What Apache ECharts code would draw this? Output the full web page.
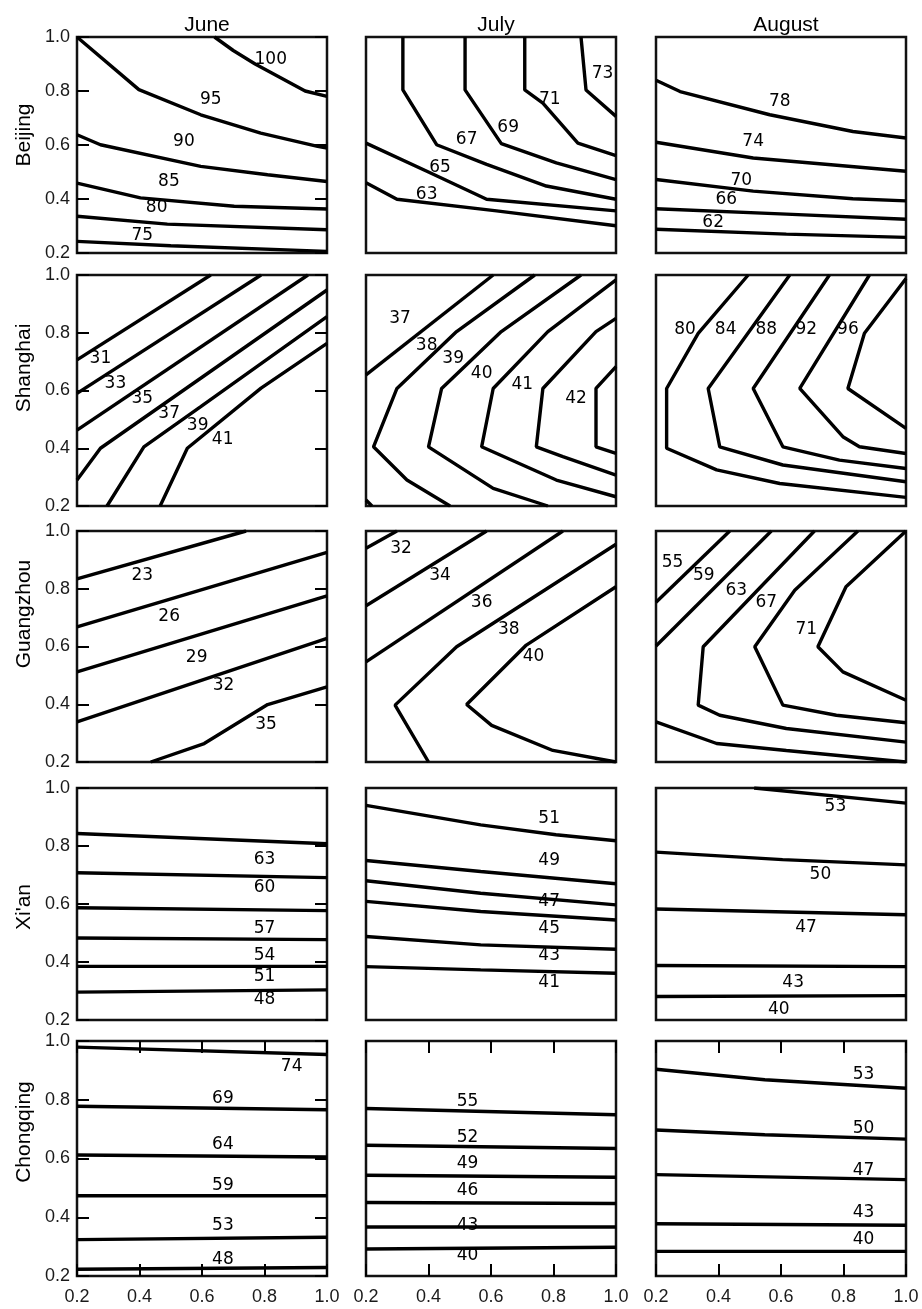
<!DOCTYPE html>
<html>
<head>
<meta charset="utf-8">
<script src="https://cdn.jsdelivr.net/npm/echarts@6/dist/echarts.min.js"></script>
<style>
  html, body { margin: 0; padding: 0; background: #fff; }
  #main { width: 922px; height: 1309px; }
</style>
</head>
<body>
<div id="main"></div>
<script>
// 各面板的等值线：level 等值, line 折线点 [x, y], at 标签位置
const months = ['June', 'July', 'August'];
const cities = ['Beijing', 'Shanghai', 'Guangzhou', "Xi'an", 'Chongqing'];
const ticks = [0.2, 0.4, 0.6, 0.8, 1.0];

const beijingJune = [
  { level: 100, line: [[0.64, 1.0], [0.70, 0.95], [0.77, 0.90], [0.93, 0.80], [1.0, 0.78]], at: [0.82, 0.915] },
  { level: 95, line: [[0.2, 1.0], [0.398, 0.805], [0.596, 0.712], [0.788, 0.644], [0.97, 0.595], [1.0, 0.589]], at: [0.628, 0.768] },
  { level: 90, line: [[0.2, 0.638], [0.275, 0.601], [0.596, 0.521], [0.81, 0.49], [1.0, 0.465]], at: [0.542, 0.614] },
  { level: 85, line: [[0.2, 0.459], [0.403, 0.404], [0.703, 0.373], [1.0, 0.363]], at: [0.494, 0.465] },
  { level: 80, line: [[0.2, 0.336], [0.489, 0.307], [1.0, 0.286]], at: [0.455, 0.367] },
  { level: 75, line: [[0.2, 0.243], [0.5, 0.227], [1.0, 0.206]], at: [0.409, 0.265] }
];
const beijingJuly = [
  { level: 73, line: [[0.888, 1.0], [0.904, 0.804], [1.0, 0.706]], at: [0.957, 0.865] },
  { level: 71, line: [[0.708, 1.0], [0.708, 0.804], [0.766, 0.755], [0.878, 0.607], [1.0, 0.561]], at: [0.788, 0.767] },
  { level: 69, line: [[0.517, 1.0], [0.517, 0.804], [0.633, 0.605], [0.809, 0.534], [1.0, 0.472]], at: [0.655, 0.663] },
  { level: 67, line: [[0.318, 1.0], [0.318, 0.804], [0.426, 0.601], [0.586, 0.528], [0.777, 0.448], [1.0, 0.399]], at: [0.522, 0.620] },
  { level: 65, line: [[0.2, 0.607], [0.405, 0.497], [0.586, 0.399], [1.0, 0.356]], at: [0.437, 0.515] },
  { level: 63, line: [[0.2, 0.46], [0.299, 0.399], [0.618, 0.356], [1.0, 0.301]], at: [0.394, 0.417] }
];
const beijingAugust = [
  { level: 78, line: [[0.2, 0.84], [0.277, 0.798], [0.564, 0.712], [0.83, 0.65], [1.0, 0.626]], at: [0.596, 0.761] },
  { level: 74, line: [[0.2, 0.61], [0.511, 0.552], [1.0, 0.503]], at: [0.511, 0.613] },
  { level: 70, line: [[0.2, 0.472], [0.511, 0.429], [0.83, 0.401], [1.0, 0.393]], at: [0.473, 0.469] },
  { level: 66, line: [[0.2, 0.364], [0.617, 0.344], [1.0, 0.325]], at: [0.425, 0.399] },
  { level: 62, line: [[0.2, 0.288], [0.617, 0.27], [1.0, 0.258]], at: [0.383, 0.313] }
];

const shanghaiJune = [
  { level: 31, line: [[0.2, 0.706], [0.628, 1.0]], at: [0.275, 0.711] },
  { level: 33, line: [[0.2, 0.59], [0.789, 1.0]], at: [0.323, 0.625] },
  { level: 35, line: [[0.2, 0.463], [0.939, 1.0]], at: [0.409, 0.573] },
  { level: 37, line: [[0.2, 0.29], [0.275, 0.40], [1.0, 0.948]], at: [0.495, 0.521] },
  { level: 39, line: [[0.296, 0.2], [0.414, 0.405], [0.596, 0.544], [1.0, 0.856]], at: [0.586, 0.480] },
  { level: 41, line: [[0.466, 0.2], [0.553, 0.40], [0.789, 0.608], [1.0, 0.763]], at: [0.666, 0.429] }
];
const shanghaiJuly = [
  { level: 37, line: [[0.2, 0.654], [0.607, 1.0]], at: [0.309, 0.850] },
  { level: 37, line: [[0.2, 0.221], [0.219, 0.2]], at: null },
  { level: 38, line: [[0.74, 1.0], [0.49, 0.804], [0.299, 0.607], [0.224, 0.405], [0.331, 0.29], [0.469, 0.2]], at: [0.394, 0.757] },
  { level: 39, line: [[0.888, 1.0], [0.633, 0.804], [0.442, 0.607], [0.40, 0.405], [0.607, 0.261], [0.782, 0.2]], at: [0.479, 0.711] },
  { level: 40, line: [[1.0, 0.983], [0.782, 0.804], [0.607, 0.607], [0.57, 0.405], [0.809, 0.29], [1.0, 0.232]], at: [0.570, 0.659] },
  { level: 41, line: [[1.0, 0.85], [0.936, 0.804], [0.766, 0.607], [0.745, 0.405], [0.83, 0.371], [1.0, 0.307]], at: [0.700, 0.619] },
  { level: 42, line: [[1.0, 0.683], [0.936, 0.607], [0.936, 0.405], [1.0, 0.382]], at: [0.872, 0.573] }
];
const shanghaiAugust = [
  { level: 80, line: [[0.495, 1.0], [0.335, 0.798], [0.234, 0.607], [0.234, 0.40], [0.394, 0.325], [0.596, 0.278], [1.0, 0.23]], at: [0.293, 0.81] },
  { level: 84, line: [[0.628, 1.0], [0.367, 0.607], [0.404, 0.405], [0.606, 0.342], [1.0, 0.284]], at: [0.423, 0.81] },
  { level: 88, line: [[0.755, 1.0], [0.511, 0.607], [0.606, 0.405], [0.787, 0.359], [1.0, 0.33]], at: [0.553, 0.81] },
  { level: 92, line: [[0.883, 1.0], [0.66, 0.607], [0.798, 0.44], [0.851, 0.405], [1.0, 0.382]], at: [0.681, 0.81] },
  { level: 96, line: [[1.0, 0.988], [0.867, 0.798], [0.814, 0.607], [1.0, 0.469]], at: [0.814, 0.81] }
];

const guangzhouJune = [
  { level: 23, line: [[0.2, 0.834], [0.741, 1.0]], at: [0.409, 0.847] },
  { level: 26, line: [[0.2, 0.668], [1.0, 0.926]], at: [0.495, 0.703] },
  { level: 29, line: [[0.2, 0.512], [1.0, 0.775]], at: [0.583, 0.561] },
  { level: 32, line: [[0.2, 0.339], [1.0, 0.628]], at: [0.669, 0.466] },
  { level: 35, line: [[0.436, 0.2], [0.607, 0.264], [0.81, 0.399], [1.0, 0.46]], at: [0.805, 0.329] }
];
const guangzhouJuly = [
  { level: 32, line: [[0.2, 0.94], [0.299, 1.0]], at: [0.312, 0.940] },
  { level: 34, line: [[0.2, 0.741], [0.586, 1.0]], at: [0.437, 0.847] },
  { level: 36, line: [[0.2, 0.547], [0.83, 1.0]], at: [0.570, 0.753] },
  { level: 38, line: [[1.0, 0.954], [0.49, 0.599], [0.293, 0.397], [0.40, 0.2]], at: [0.657, 0.657] },
  { level: 40, line: [[1.0, 0.807], [0.713, 0.605], [0.522, 0.399], [0.602, 0.327], [0.798, 0.24], [1.0, 0.2]], at: [0.736, 0.564] }
];
const guangzhouAugust = [
  { level: 55, line: [[0.2, 0.753], [0.436, 1.0]], at: [0.253, 0.891] },
  { level: 59, line: [[0.2, 0.602], [0.569, 1.0]], at: [0.353, 0.847] },
  { level: 63, line: [[0.707, 1.0], [0.351, 0.599], [0.335, 0.397], [0.404, 0.362], [0.617, 0.316], [1.0, 0.269]], at: [0.457, 0.795] },
  { level: 67, line: [[0.846, 1.0], [0.644, 0.795], [0.516, 0.599], [0.606, 0.397], [0.777, 0.362], [1.0, 0.336]], at: [0.553, 0.753] },
  { level: 71, line: [[1.0, 1.0], [0.808, 0.807], [0.718, 0.599], [0.798, 0.512], [1.0, 0.414]], at: [0.681, 0.657] },
  { level: 59, line: [[0.2, 0.339], [0.394, 0.264], [0.617, 0.24], [1.0, 0.2]], at: null }
];

const xianJune = [
  { level: 63, line: [[0.2, 0.843], [1.0, 0.808]], at: [0.80, 0.752] },
  { level: 60, line: [[0.2, 0.708], [1.0, 0.691]], at: [0.80, 0.658] },
  { level: 57, line: [[0.2, 0.587], [1.0, 0.577]], at: [0.80, 0.515] },
  { level: 54, line: [[0.2, 0.483], [1.0, 0.477]], at: [0.80, 0.423] },
  { level: 51, line: [[0.2, 0.385], [1.0, 0.385]], at: [0.80, 0.350] },
  { level: 48, line: [[0.2, 0.296], [1.0, 0.304]], at: [0.80, 0.269] }
];
const xianJuly = [
  { level: 51, line: [[0.2, 0.94], [0.567, 0.873], [0.808, 0.839], [1.0, 0.818]], at: [0.786, 0.894] },
  { level: 49, line: [[0.2, 0.75], [0.567, 0.712], [1.0, 0.67]], at: [0.786, 0.749] },
  { level: 47, line: [[0.2, 0.68], [0.567, 0.637], [1.0, 0.597]], at: [0.786, 0.609] },
  { level: 45, line: [[0.2, 0.609], [0.567, 0.574], [1.0, 0.545]], at: [0.786, 0.514] },
  { level: 43, line: [[0.2, 0.488], [0.567, 0.459], [1.0, 0.444]], at: [0.786, 0.421] },
  { level: 41, line: [[0.2, 0.384], [0.567, 0.373], [1.0, 0.361]], at: [0.786, 0.330] }
];
const xianAugust = [
  { level: 53, line: [[0.514, 1.0], [1.0, 0.948]], at: [0.774, 0.937] },
  { level: 50, line: [[0.2, 0.779], [0.605, 0.753], [1.0, 0.735]], at: [0.726, 0.701] },
  { level: 47, line: [[0.2, 0.583], [1.0, 0.563]], at: [0.680, 0.517] },
  { level: 43, line: [[0.2, 0.388], [1.0, 0.384]], at: [0.639, 0.330] },
  { level: 40, line: [[0.2, 0.281], [1.0, 0.284]], at: [0.593, 0.235] }
];

const chongqingJune = [
  { level: 74, line: [[0.2, 0.979], [1.0, 0.954]], at: [0.887, 0.914] },
  { level: 69, line: [[0.2, 0.778], [1.0, 0.766]], at: [0.667, 0.804] },
  { level: 64, line: [[0.2, 0.612], [1.0, 0.605]], at: [0.667, 0.649] },
  { level: 59, line: [[0.2, 0.473], [1.0, 0.473]], at: [0.667, 0.507] },
  { level: 53, line: [[0.2, 0.324], [1.0, 0.332]], at: [0.667, 0.370] },
  { level: 48, line: [[0.2, 0.223], [1.0, 0.229]], at: [0.667, 0.255] }
];
const chongqingJuly = [
  { level: 55, line: [[0.2, 0.77], [1.0, 0.749]], at: [0.525, 0.795] },
  { level: 52, line: [[0.2, 0.645], [1.0, 0.634]], at: [0.525, 0.672] },
  { level: 49, line: [[0.2, 0.543], [1.0, 0.536]], at: [0.525, 0.583] },
  { level: 46, line: [[0.2, 0.45], [1.0, 0.447]], at: [0.525, 0.490] },
  { level: 43, line: [[0.2, 0.367], [1.0, 0.367]], at: [0.525, 0.373] },
  { level: 40, line: [[0.2, 0.292], [1.0, 0.298]], at: [0.525, 0.269] }
];
const chongqingAugust = [
  { level: 53, line: [[0.2, 0.904], [0.548, 0.868], [1.0, 0.839]], at: [0.864, 0.885] },
  { level: 50, line: [[0.2, 0.697], [0.548, 0.681], [1.0, 0.666]], at: [0.864, 0.701] },
  { level: 47, line: [[0.2, 0.545], [1.0, 0.528]], at: [0.864, 0.560] },
  { level: 43, line: [[0.2, 0.378], [1.0, 0.373]], at: [0.864, 0.416] },
  { level: 40, line: [[0.2, 0.284], [1.0, 0.284]], at: [0.864, 0.323] }
];

const panels = [
  [beijingJune, beijingJuly, beijingAugust],
  [shanghaiJune, shanghaiJuly, shanghaiAugust],
  [guangzhouJune, guangzhouJuly, guangzhouAugust],
  [xianJune, xianJuly, xianAugust],
  [chongqingJune, chongqingJuly, chongqingAugust]
];

// 版面
const colX = [77, 366, 656];
const panelW = 250;
const rowY = [37, 275, 531, 788, 1041];
const rowH = [216, 231, 231, 232, 235];
const rowLabelY = [135, 368, 614, 907, 1132];
const sansFont = "'Liberation Sans', Arial, sans-serif";
const ink = '#000';

const grids = [], xAxes = [], yAxes = [], series = [];
const lastRow = panels.length - 1;

function axisBase(gridIndex) {
  return {
    type: 'value',
    gridIndex: gridIndex,
    min: ticks[0],
    max: ticks[ticks.length - 1],
    interval: 0.2,
    axisLine: { show: false },
    splitLine: { show: false },
    axisTick: { show: false, inside: true, length: 12, lineStyle: { color: ink, width: 2 } },
    axisLabel: {
      show: false,
      showMinLabel: true,
      showMaxLabel: true,
      color: '#1a1a1a',
      fontSize: 18,
      fontFamily: sansFont,
      formatter: v => v.toFixed(1)
    }
  };
}

panels.forEach((row, r) => {
  row.forEach((contours, c) => {
    const g = grids.length;
    grids.push({
      left: colX[c], top: rowY[r], width: panelW, height: rowH[r],
      show: true, borderColor: '#111', borderWidth: 2.5, backgroundColor: '#fff'
    });

    const xb = axisBase(g);
    xb.position = 'bottom';
    if (r === lastRow) {
      xb.axisTick.show = true;
      xb.axisLabel.show = true;
      xb.axisLabel.margin = 12;
    }
    const xt = axisBase(g);
    xt.position = 'top';
    xt.axisTick.show = r === lastRow;
    xAxes.push(xb, xt);

    const yl = axisBase(g);
    yl.position = 'left';
    if (c === 0) {
      yl.axisTick.show = true;
      yl.axisLabel.show = true;
      yl.axisLabel.margin = 7;
    }
    const yr = axisBase(g);
    yr.position = 'right';
    yr.axisTick.show = c === 0;
    yAxes.push(yl, yr);

    contours.forEach(ct => {
      series.push({
        type: 'line',
        xAxisIndex: 2 * g,
        yAxisIndex: 2 * g,
        data: ct.line,
        symbol: 'none',
        silent: true,
        lineStyle: { color: '#000', width: 3.4 },
        z: 3
      });
    });

    series.push({
      type: 'scatter',
      xAxisIndex: 2 * g,
      yAxisIndex: 2 * g,
      symbolSize: 1,
      itemStyle: { color: 'rgba(0,0,0,0)', opacity: 1 },
      silent: true,
      z: 4,
      data: contours.filter(ct => ct.at).map(ct => [ct.at[0], ct.at[1], ct.level]),
      label: {
        show: true,
        position: 'inside',
        formatter: p => String(p.value[2]),
        color: '#000',
        opacity: 1,
        fontSize: 17,
        fontFamily: "'DejaVu Sans', sans-serif",
        textBorderWidth: 0
      }
    });
  });
});

const titles = months.map((m, c) => ({
  text: m,
  left: colX[c] + panelW / 2,
  top: 10,
  textAlign: 'center',
  textStyle: { fontSize: 21, fontWeight: 'normal', color: ink, fontFamily: sansFont }
}));

const rowLabels = cities.map((name, r) => ({
  type: 'text',
  x: 24,
  y: rowLabelY[r],
  rotation: Math.PI / 2,
  style: {
    text: name,
    fill: ink,
    font: '21px ' + sansFont,
    textAlign: 'center',
    textVerticalAlign: 'middle'
  }
}));

const myChart = echarts.init(document.getElementById('main'), null, { renderer: 'canvas' });
myChart.setOption({
  animation: false,
  backgroundColor: '#fff',
  title: titles,
  graphic: rowLabels,
  grid: grids,
  xAxis: xAxes,
  yAxis: yAxes,
  series: series
});
</script>
</body>
</html>
